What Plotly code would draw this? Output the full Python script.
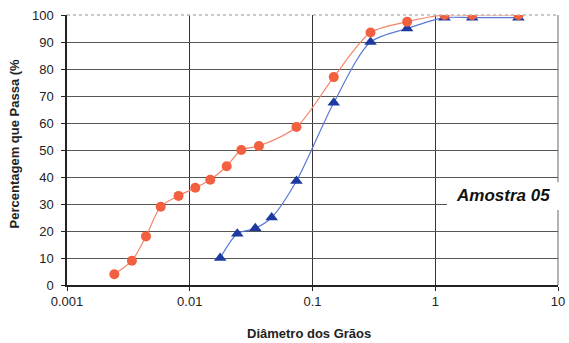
import plotly.graph_objects as go

# Grain-size distribution (Amostra 05)
diam_red = [0.00243, 0.00338, 0.0044, 0.0058, 0.0081, 0.0111, 0.0147, 0.020,
            0.0263, 0.0366, 0.074, 0.149, 0.297, 0.59, 1.19, 2.0, 4.76]
pass_red = [4, 9, 18, 29, 33, 36, 39, 44, 50, 51.5, 58.5, 77, 93.5, 97.5, 100, 100, 100]

diam_blue = [0.0177, 0.0244, 0.0342, 0.0465, 0.074, 0.149, 0.297, 0.59, 1.19, 2.0, 4.76]
pass_blue = [10, 19, 21, 25, 38.5, 67.5, 90, 95, 99, 99, 99]

x_ticks = [0.001, 0.01, 0.1, 1, 10]
x_tick_text = ["0.001", "0.01", "0.1", "1", "10"]
y_ticks = list(range(0, 101, 10))

FONT = "Liberation Sans, Arial, sans-serif"

fig = go.Figure()

fig.add_trace(go.Scatter(
    x=diam_blue, y=pass_blue, mode="lines+markers",
    line=dict(color="#5a78d6", width=1.2, shape="spline", smoothing=0.8),
    marker=dict(symbol="triangle-up", size=11, color="#1f3a9e"),
    showlegend=False,
))
fig.add_trace(go.Scatter(
    x=diam_red, y=pass_red, mode="lines+markers",
    line=dict(color="#f5836a", width=1.2, shape="spline", smoothing=0.8),
    marker=dict(symbol="circle", size=10, color="#f2603f"),
    showlegend=False,
))

# right border, dotted top border, then a white patch behind the sample label
fig.add_shape(type="line", xref="paper", yref="paper", x0=1, x1=1, y0=0, y1=1,
              line=dict(color="#9a9a9a", width=1.5), layer="below")
fig.add_shape(type="line", xref="paper", yref="paper", x0=0, x1=1, y0=1, y1=1,
              line=dict(color="#b8b8b8", width=1.5, dash="dot"), layer="above")
fig.add_shape(type="rect", xref="paper", yref="paper", x0=0.774, x1=1.03,
              y0=0.278, y1=0.381, fillcolor="white", line=dict(width=0), layer="above")

fig.add_annotation(text="<b><i>Amostra 05</i></b>", xref="paper", yref="paper",
                   x=0.887, y=0.333, xanchor="center", yanchor="middle", showarrow=False,
                   font=dict(family=FONT, size=17, color="#111111"))
fig.add_annotation(text="<b>Percentagem que Passa (%</b>", xref="paper", yref="paper",
                   x=-0.105, y=0.526, xanchor="center", yanchor="middle",
                   textangle=-90, showarrow=False,
                   font=dict(family=FONT, size=13, color="#222222"))
fig.add_annotation(text="<b>Diâmetro dos Grãos</b>", xref="paper", yref="paper",
                   x=0.493, y=-0.178, xanchor="center", yanchor="middle", showarrow=False,
                   font=dict(family=FONT, size=13, color="#222222"))

fig.update_layout(
    width=569, height=343,
    margin=dict(l=66.6, r=11, t=15, b=58, autoexpand=False),
    paper_bgcolor="white", plot_bgcolor="white",
    font=dict(family=FONT, size=13, color="#222222"),
)
fig.update_xaxes(
    type="log", range=[-3, 1], tickvals=x_ticks, ticktext=x_tick_text,
    showgrid=True, gridcolor="#333333", gridwidth=1,
    showline=True, linecolor="#222222", linewidth=1.5,
    ticks="outside", ticklen=4, tickcolor="#222222", ticklabelstandoff=0,
    zeroline=False, automargin=False,
)
fig.update_yaxes(
    range=[0, 100], tickvals=y_ticks,
    showgrid=True, gridcolor="#555555", gridwidth=1.2,
    showline=True, linecolor="#222222", linewidth=1.5,
    ticks="outside", ticklen=4, tickcolor="#222222", ticklabelstandoff=5,
    zeroline=False, automargin=False,
)

fig.write_html("out.html")
